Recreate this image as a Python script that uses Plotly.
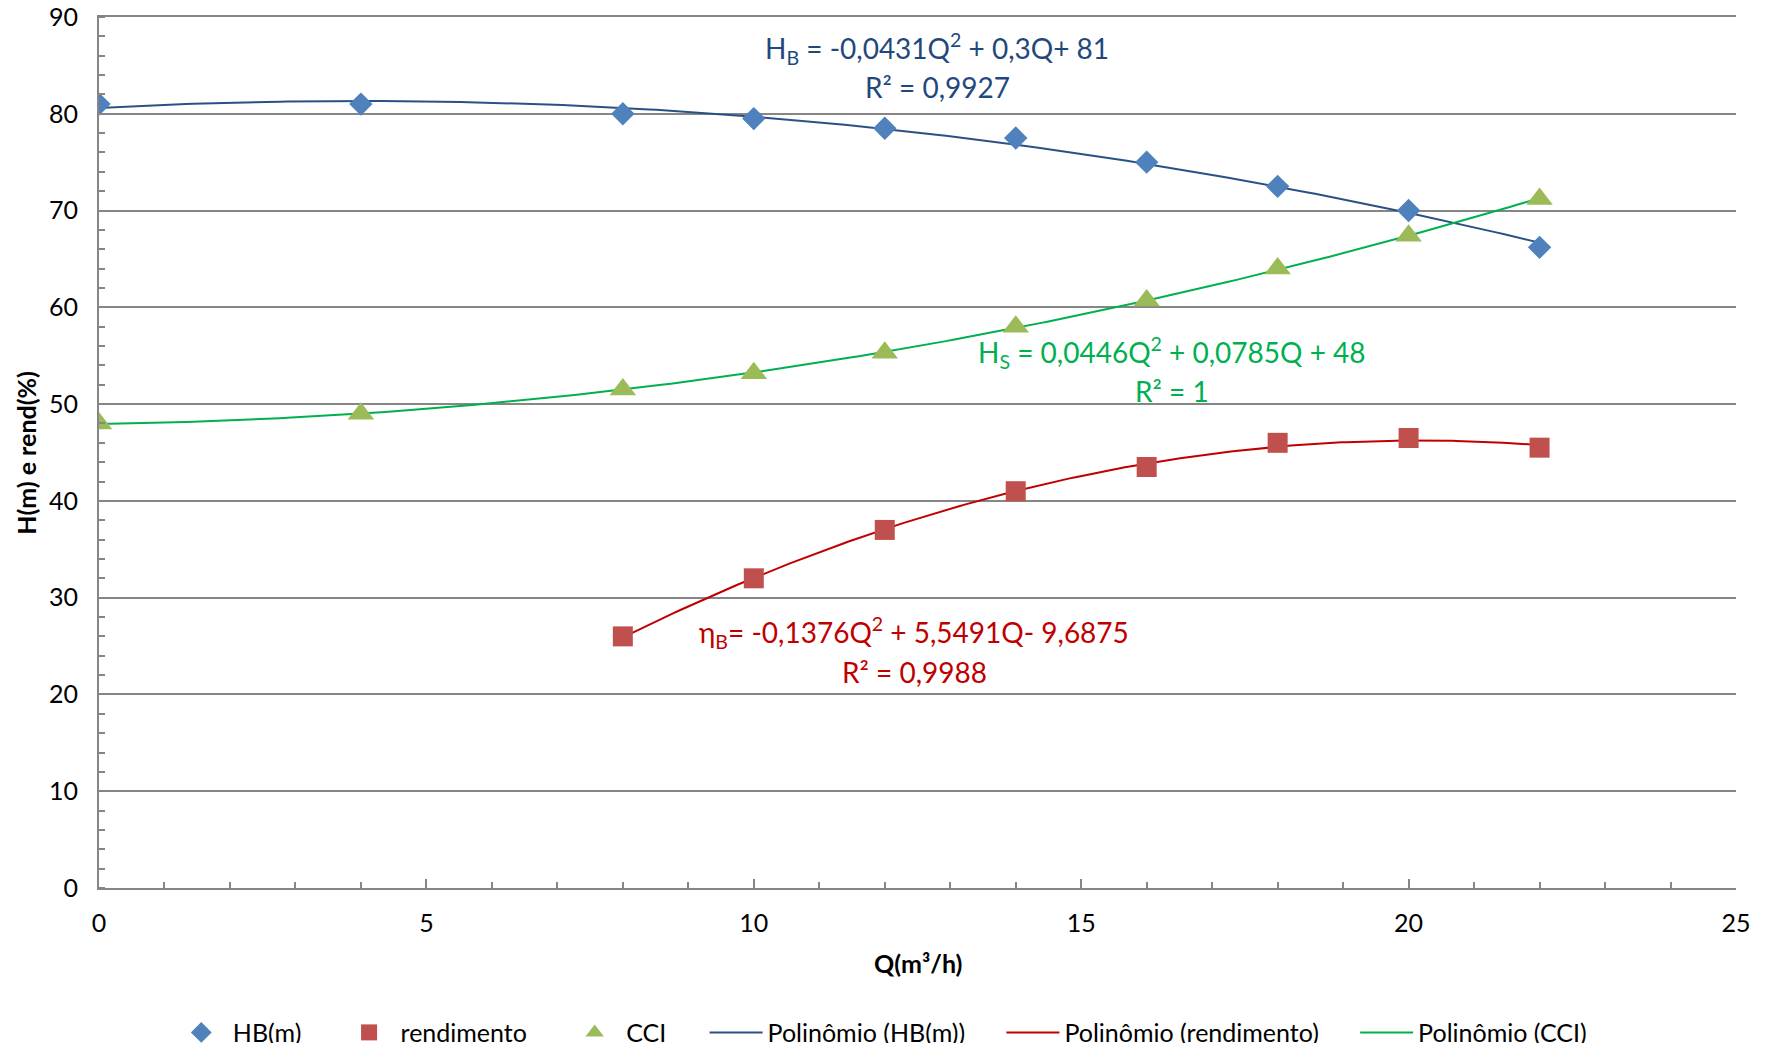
import numpy as np
import plotly.graph_objects as go

# Data
q_hb = [0, 4, 8, 10, 12, 14, 16, 18, 20, 22]
hb = [81.0, 81.0, 80.0, 79.5, 78.5, 77.5, 75.0, 72.5, 70.0, 66.2]

q_rend = [8, 10, 12, 14, 16, 18, 20, 22]
rend = [26.0, 32.0, 37.0, 41.0, 43.5, 46.0, 46.5, 45.5]

q_cci = [0, 4, 8, 10, 12, 14, 16, 18, 20, 22]
cci = [48.0, 49.0, 51.5, 53.2, 55.3, 58.0, 60.7, 64.0, 67.4, 71.2]

x_ticks = [0, 5, 10, 15, 20, 25]
y_ticks = [0, 10, 20, 30, 40, 50, 60, 70, 80, 90]

FONT = "Lato"
C_HB_M, C_HB_L, C_HB_T = "#4F81BD", "#2A5185", "#1F497D"
C_R_M, C_R_L, C_R_T = "#C0504D", "#C00000", "#C00000"
C_C_M, C_C_L, C_C_T = "#9BBB59", "#00B050", "#00B050"
GRID = "#868686"

EM = "\u2003"
EN = "\u2002"
TH = "\u2004"


def trend(xs, ys):
    c = np.polyfit(xs, ys, 2)
    xx = np.linspace(min(xs), max(xs), 200)
    return xx, np.polyval(c, xx)


fig = go.Figure()

xx, yy = trend(q_hb, hb)
fig.add_trace(go.Scatter(x=xx, y=yy, mode="lines", name="Polinômio (HB(m))" + EM + EN,
                         line=dict(color=C_HB_L, width=2), legendrank=4))
xx, yy = trend(q_rend, rend)
fig.add_trace(go.Scatter(x=xx, y=yy, mode="lines", name="Polinômio (rendimento)" + EM + EN,
                         line=dict(color=C_R_L, width=2), legendrank=5))
xx, yy = trend(q_cci, cci)
fig.add_trace(go.Scatter(x=xx, y=yy, mode="lines", name="Polinômio (CCI)",
                         line=dict(color=C_C_L, width=2), legendrank=6))

fig.add_trace(go.Scatter(x=q_hb, y=hb, mode="markers", name="HB(m)" + EM + EN,
                         marker=dict(symbol="diamond", size=18, color=C_HB_M), legendrank=1))
fig.add_trace(go.Scatter(x=q_rend, y=rend, mode="markers", name="rendimento" + EM + EN,
                         marker=dict(symbol="square", size=20, color=C_R_M), legendrank=2))
fig.add_trace(go.Scatter(x=q_cci, y=cci, mode="markers", name="CCI" + EN + EN + TH,
                         marker=dict(symbol="triangle-up", size=23, color=C_C_M), legendrank=3))

ann = [
    (12.8, 86.7, "H<sub>B</sub> = -0,0431Q<sup>2</sup> + 0,3Q+ 81", C_HB_T),
    (12.8, 82.75, "R² = 0,9927", C_HB_T),
    (16.39, 55.3, "H<sub>S</sub> = 0,0446Q<sup>2</sup> + 0,0785Q + 48", C_C_T),
    (16.39, 51.4, "R² = 1", C_C_T),
    (12.45, 26.4, "η<sub>B</sub>= -0,1376Q<sup>2</sup> + 5,5491Q- 9,6875", C_R_T),
    (12.45, 22.3, "R² = 0,9988", C_R_T),
]
for x, y, t, c in ann:
    fig.add_annotation(x=x, y=y, text=t, showarrow=False, xanchor="center", yanchor="middle",
                       font=dict(family=FONT, size=28, color=c))

fig.add_annotation(x=0.5, y=-0.086, xref="paper", yref="paper", text="<b>Q(m³/h)</b>",
                   showarrow=False, xanchor="center", yanchor="middle",
                   font=dict(family=FONT, size=25, color="black"))
fig.add_annotation(x=-0.045, y=0.5, xref="paper", yref="paper", text="<b>H(m) e rend(%)</b>",
                   showarrow=False, xanchor="center", yanchor="middle", textangle=-90,
                   font=dict(family=FONT, size=25, color="black"))

fig.update_layout(
    width=1754, height=1035,
    margin=dict(l=91, r=26, t=9, b=155, autoexpand=False),
    plot_bgcolor="white", paper_bgcolor="white",
    font=dict(family=FONT, size=25, color="black"),
    showlegend=True,
    legend=dict(orientation="h", xref="container", yref="container",
                x=0.4976, xanchor="center", y=0.01, yanchor="middle",
                font=dict(family=FONT, size=25, color="black"), itemwidth=53,
                traceorder="normal", borderwidth=0),
)
fig.update_xaxes(range=[0, 25], tickvals=x_ticks, showgrid=False, zeroline=False,
                 showline=True, linecolor=GRID, linewidth=2, mirror=True, automargin=False,
                 ticks="inside", ticklen=9, tickcolor=GRID, tickwidth=1.5,
                 minor=dict(dtick=1, ticks="inside", ticklen=6, tickcolor=GRID, tickwidth=1.5, showgrid=False),
                 tickfont=dict(size=25), ticklabelstandoff=12)
fig.update_yaxes(range=[0, 90], tickvals=y_ticks, showgrid=True, gridcolor=GRID, gridwidth=1.5,
                 zeroline=False, showline=True, linecolor=GRID, linewidth=2, automargin=False,
                 ticks="", ticklabeloverflow="allow",
                 minor=dict(dtick=2, ticks="inside", ticklen=6, tickcolor=GRID, tickwidth=1.5, showgrid=False),
                 tickfont=dict(size=25), ticklabelstandoff=14)

fig.write_html("out.html")
